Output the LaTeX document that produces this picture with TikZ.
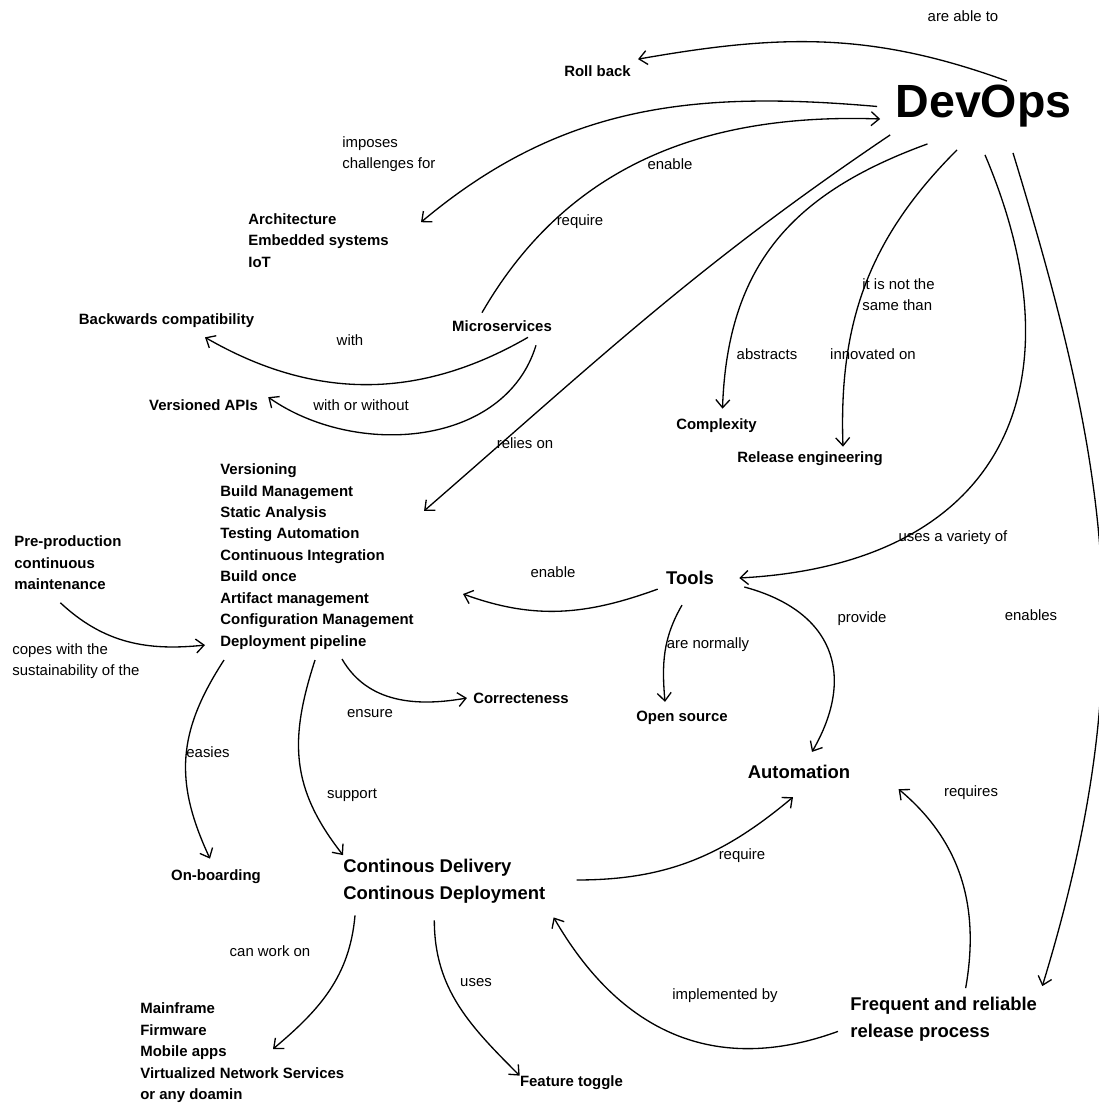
\documentclass[tikz,border=0pt]{standalone}
\usepackage{fontspec}
\setmainfont{Liberation Sans}
\usetikzlibrary{arrows.meta}

\begin{document}
\begin{tikzpicture}[
  concept/.style={font=\fontsize{8.5}{12.2}\selectfont\bfseries, inner sep=0pt, align=left},
  major/.style={font=\fontsize{10.5}{15.3}\selectfont\bfseries, inner sep=0pt, align=left},
  link/.style={font=\fontsize{8.5}{11.9}\selectfont, inner sep=0pt, align=left},
  rel/.style={line width=0.75pt, -{Straight Barb[length=1.6mm,width=2.8mm]}}
]
\useasboundingbox (0,0) rectangle (21.98,22.08);

\node[font=\fontsize{26.5}{30}\selectfont\bfseries, inner sep=0pt] (devops) at (19.67,19.95) {DevOps};

\node[concept] (rollback) at (11.95,20.66) {Roll back};
\node[concept, anchor=west] (arch) at (4.96,17.27) {Architecture\\Embedded systems\\IoT};
\node[concept] (micro) at (10.04,15.56) {Microservices};
\node[concept] (backcomp) at (3.33,15.66) {Backwards compatibility};
\node[concept] (versioned) at (4.07,13.98) {Versioned APIs};
\node[concept] (complexity) at (14.33,13.56) {Complexity};
\node[concept] (releng) at (16.20,12.90) {Release engineering};
\node[concept, anchor=west] (practices) at (4.40,10.95) {Versioning\\Build Management\\Static Analysis\\Testing Automation\\Continuous Integration\\Build once\\Artifact management\\Configuration Management\\Deployment pipeline};
\node[concept, anchor=west] (preprod) at (0.28,10.82) {Pre-production\\continuous\\maintenance};
\node[major] (tools) at (13.80,10.52) {Tools};
\node[concept] (opensource) at (13.64,7.72) {Open source};
\node[concept] (correct) at (10.42,8.12) {Correcteness};
\node[major] (automation) at (15.98,6.64) {Automation};
\node[concept] (onboard) at (4.32,4.54) {On-boarding};
\node[major, anchor=west] (cd) at (6.86,4.46) {Continous Delivery\\Continous Deployment};
\node[major, anchor=west] (frequent) at (17.00,1.70) {Frequent and reliable\\release process};
\node[concept, anchor=west] (targets) at (2.80,1.02) {Mainframe\\Firmware\\Mobile apps\\Virtualized Network Services\\or any doamin};
\node[concept] (toggle) at (11.43,0.42) {Feature toggle};

\node[link] (ablelbl) at (19.26,21.76) {are able to};
\node[link, anchor=west] (imposeslbl) at (6.84,19.00) {imposes\\challenges for};
\node[link] (enablelbl) at (13.40,18.80) {enable};
\node[link] (requirelbl) at (11.60,17.64) {require};
\node[link] (withlbl) at (7.00,15.28) {with};
\node[link] (withoutlbl) at (7.22,13.98) {with or without};
\node[link] (relieslbl) at (10.50,13.22) {relies on};
\node[link] (abstractslbl) at (15.34,15.00) {abstracts};
\node[link, anchor=west] (notsamelbl) at (17.24,16.18) {it is not the\\same than};
\node[link] (innovatedlbl) at (17.46,15.00) {innovated on};
\node[link] (enablelbltwo) at (11.06,10.64) {enable};
\node[link] (varietylbl) at (19.06,11.32) {uses a variety of};
\node[link] (providelbl) at (17.24,9.70) {provide};
\node[link] (enableslbl) at (20.62,9.78) {enables};
\node[link] (normallylbl) at (14.16,9.18) {are normally};
\node[link] (ensurelbl) at (7.40,7.80) {ensure};
\node[link, anchor=west] (copeslbl) at (0.24,8.86) {copes with the\\sustainability of the};
\node[link] (easieslbl) at (4.16,7.04) {easies};
\node[link] (supportlbl) at (7.04,6.18) {support};
\node[link] (requireslbl) at (19.42,6.22) {requires};
\node[link] (requirelbltwo) at (14.84,4.96) {require};
\node[link] (canworklbl) at (5.40,3.06) {can work on};
\node[link] (useslbl) at (9.52,2.42) {uses};
\node[link] (implementedlbl) at (14.50,2.16) {implemented by};

\draw[rel] ([shift={(0.47,0.08)}]devops.north) to[out=160,in=10] ([shift={(0.14,0.12)}]rollback.north east);
\draw[rel] ([shift={(-0.36,0)}]devops.west) to[out=175,in=40] ([shift={(0.64,-0.18)}]arch.north east);
\draw[rel] ([shift={(-0.4,0.15)}]micro.north) to[out=60,in=178] ([shift={(-0.3,-0.25)}]devops.west);
\draw[rel] ([shift={(-0.1,-0.14)}]devops.south west) to[out=214,in=41] ([shift={(0.2,-0.95)}]practices.north east);
\draw[rel] ([shift={(-1.12,-0.32)}]devops.south) to[out=200,in=88,looseness=1.1] ([shift={(0.12,0.2)}]complexity.north);
\draw[rel] ([shift={(-0.53,-0.44)}]devops.south) to[out=225,in=92] ([shift={(0.66,0.1)}]releng.north);
\draw[rel] ([shift={(0.03,-0.54)}]devops.south) to[out=293,in=3,looseness=1.35] ([shift={(0.5,0)}]tools.east);
\draw[rel] ([shift={(0.59,-0.5)}]devops.south) to[out=287,in=73,looseness=1.03] ([shift={(0.1,0.21)}]frequent.north east);

\draw[rel] ([shift={(0.52,-0.11)}]micro.south) to[out=210,in=330] ([shift={(0.77,-0.18)}]backcomp.south);
\draw[rel] ([shift={(0.68,-0.27)}]micro.south) to[out=253,in=325] ([shift={(0.2,0.04)}]versioned.north east);

\draw[rel] ([shift={(-0.15,-0.25)}]preprod.south) to[out=317,in=186] ([shift={(-0.3,0.09)}]practices.south west);
\draw[rel] ([shift={(-0.16,-0.08)}]tools.south west) to[out=200,in=340] ([shift={(0.98,-0.75)}]practices.east);
\draw[rel] ([shift={(-0.16,-0.4)}]tools.south) to[out=240,in=95] ([shift={(-0.34,0.18)}]opensource.north);
\draw[rel] ([shift={(0.6,-0.18)}]tools.east) to[out=345,in=60,looseness=1.3] ([shift={(0.26,0.26)}]automation.north);

\draw[rel] ([shift={(0.5,-0.19)}]practices.south) to[out=300,in=190] ([shift={(-0.12,0)}]correct.west);
\draw[rel] ([shift={(0.08,-0.21)}]practices.south west) to[out=237,in=115,looseness=1.1] ([shift={(-0.12,0.22)}]onboard.north);
\draw[rel] ([shift={(-0.04,-0.21)}]practices.south) to[out=252,in=128,looseness=1.1] ([shift={(0,0.07)}]cd.north west);

\draw[rel] ([shift={(0.62,0.02)}]cd.east) to[out=0,in=220] ([shift={(-0.12,-0.36)}]automation.south);
\draw[rel] ([shift={(0.44,0.17)}]frequent.north) to[out=80,in=320] ([shift={(0.96,-0.2)}]automation.south east);
\draw[rel] ([shift={(-0.24,0.2)}]frequent.south west) to[out=200,in=300,looseness=1.1] ([shift={(0.16,-0.28)}]cd.south east);
\draw[rel] ([shift={(0.24,-0.24)}]cd.south west) to[out=265,in=40] ([shift={(2.66,0.08)}]targets.west);
\draw[rel] ([shift={(-0.2,-0.34)}]cd.south) to[out=270,in=135] (toggle.north west);
\end{tikzpicture}
\end{document}
